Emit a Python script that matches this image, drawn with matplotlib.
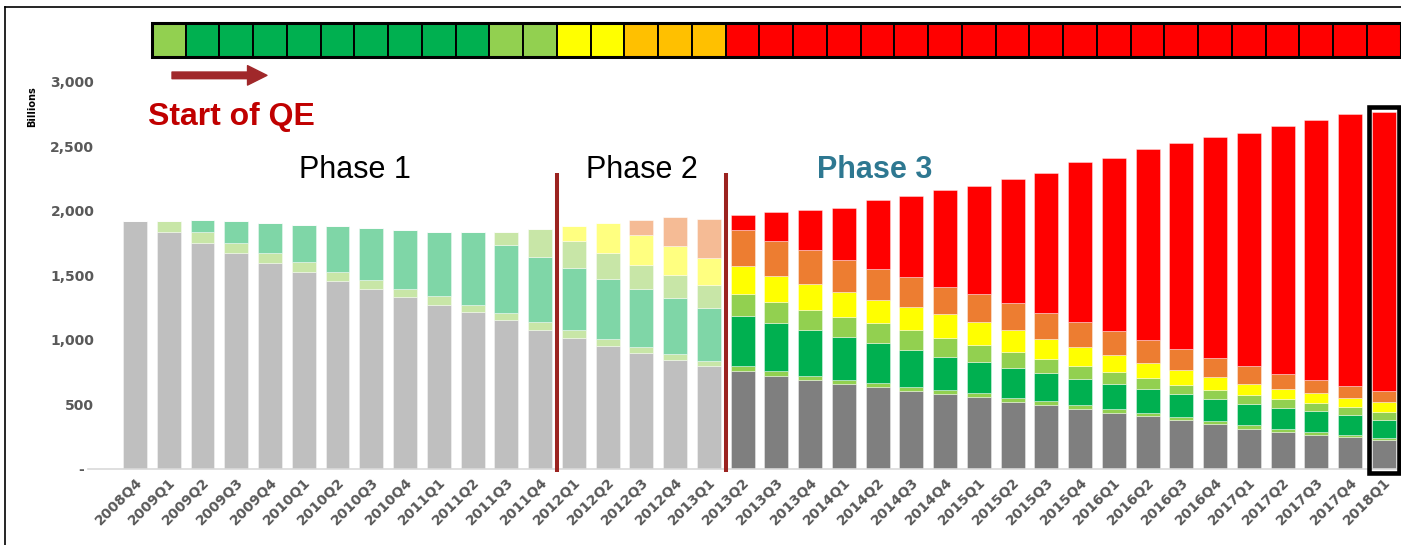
import matplotlib.pyplot as plt
from matplotlib.patches import Rectangle
from matplotlib.lines import Line2D
import numpy as np

# quarters on the x axis
quarters = ['2008Q4',
            '2009Q1', '2009Q2', '2009Q3', '2009Q4',
            '2010Q1', '2010Q2', '2010Q3', '2010Q4',
            '2011Q1', '2011Q2', '2011Q3', '2011Q4',
            '2012Q1', '2012Q2', '2012Q3', '2012Q4',
            '2013Q1', '2013Q2', '2013Q3', '2013Q4',
            '2014Q1', '2014Q2', '2014Q3', '2014Q4',
            '2015Q1', '2015Q2', '2015Q3', '2015Q4',
            '2016Q1', '2016Q2', '2016Q3', '2016Q4',
            '2017Q1', '2017Q2', '2017Q3', '2017Q4',
            '2018Q1']

# balances by vintage (billions), bottom to top of each stack
pre_2009 = [1918, 1832, 1752, 1672, 1597, 1527, 1457, 1395, 1333, 1271, 1212, 1150, 1077,
            1015, 953, 898, 842, 795, 754, 715, 684, 656, 630, 604, 576, 552, 518, 490,
            464, 433, 407, 374, 343, 309, 283, 262, 242, 219]
v2009q1 = [0, 86, 85, 80, 75, 73, 70, 67, 62, 65, 56, 56, 60,
           57, 54, 47, 46, 39, 41, 41, 36, 31, 31, 28, 33, 31, 31, 34,
           26, 29, 24, 23, 23, 26, 21, 19, 18, 18]
v2009q2_2011q2 = [0, 0, 88, 166, 230, 287, 352, 406, 457, 496, 564, 530, 506,
                  483, 466, 448, 432, 414, 390, 370, 352, 333, 310, 287, 258, 243, 228, 214,
                  202, 191, 183, 181, 173, 168, 165, 163, 153, 142]
v2011h2 = [0, 0, 0, 0, 0, 0, 0, 0, 0, 0, 0, 99, 215,
           208, 199, 186, 179, 176, 171, 166, 160, 158, 155, 155, 148, 134, 129, 114,
           103, 96, 86, 72, 70, 67, 70, 62, 62, 62]
v2012h1 = [0, 0, 0, 0, 0, 0, 0, 0, 0, 0, 0, 0, 0,
           116, 233, 235, 225, 211, 213, 201, 197, 194, 181, 179, 181, 177, 166, 155,
           150, 132, 121, 114, 101, 88, 78, 77, 74, 75]
v2012q3_2013q1 = [0, 0, 0, 0, 0, 0, 0, 0, 0, 0, 0, 0, 0,
                  0, 0, 112, 225, 303, 281, 272, 264, 243, 241, 233, 215, 214, 209, 202,
                  192, 186, 174, 161, 150, 137, 116, 104, 93, 85]
v2013q2_on = [0, 0, 0, 0, 0, 0, 0, 0, 0, 0, 0, 0, 0,
              0, 0, 0, 0, 0, 117, 223, 315, 408, 535, 626, 750, 843, 965, 1081,
              1238, 1339, 1481, 1600, 1714, 1805, 1922, 2019, 2106, 2165]

# status of each quarter from 2009Q1 on, shown in the strip
strip_status = ['lgreen'] + ['green'] * 9 + ['lgreen'] * 2 + ['yellow'] * 2 + \
               ['amber'] * 3 + ['red'] * 20

yticks = [0, 500, 1000, 1500, 2000, 2500, 3000]
ytick_labels = ['-  ', '500', '1,000', '1,500', '2,000', '2,500', '3,000']

# full colours (phase 3) and the faded ones used for phases 1-2
full = ['#7F7F7F', '#92D050', '#00B050', '#92D050', '#FFFF00', '#ED7D31', '#FF0000']
faded = ['#BFBFBF', '#C8E6A7', '#7FD6A7', '#C8E6A7', '#FFFF80', '#F5BB95', '#FF8080']
strip_colors = {'lgreen': '#92D050', 'green': '#00B050', 'yellow': '#FFFF00',
                'amber': '#FFC000', 'red': '#FF0000'}

layers = [pre_2009, v2009q1, v2009q2_2011q2, v2011h2, v2012h1, v2012q3_2013q1, v2013q2_on]

W, H = 1401, 545
fig = plt.figure(figsize=(W / 100, H / 100), dpi=100)
ax = fig.add_axes([88 / W, (H - 468.5) / H, 1 - 88 / W, 468.5 / H])

x = np.arange(len(quarters))
phase3 = x >= 18
bottom = np.zeros(len(quarters))
for k, vals in enumerate(layers):
    vals = np.array(vals, dtype=float)
    cols = [full[k] if p else faded[k] for p in phase3]
    ax.bar(x, vals, 0.71, bottom=bottom, color=cols,
           edgecolor=(1, 1, 1, 0.45), linewidth=0.6)
    bottom += vals

px_per_unit = 0.1289
ax.set_xlim(-1.393, 37.51)
ax.set_ylim(0, 468.5 / px_per_unit)

for s in ['top', 'right', 'left']:
    ax.spines[s].set_visible(False)
ax.spines['bottom'].set_color('#D9D9D9')
ax.spines['bottom'].set_linewidth(1.2)

ax.set_yticks(yticks)
ax.set_yticklabels(ytick_labels)
ax.tick_params(axis='y', length=0, pad=-4.5, labelsize=10, labelcolor='#595959')
for t in ax.get_yticklabels():
    t.set_fontweight('bold')

ax.set_xticks(x)
ax.set_xticklabels(quarters, rotation=45, ha='right', rotation_mode='anchor')
ax.tick_params(axis='x', length=0, pad=5, labelsize=10, labelcolor='#595959')
for t in ax.get_xticklabels():
    t.set_fontweight('bold')

# box around the latest quarter
ax.add_patch(Rectangle((37 - 0.445, -33), 0.89, 2804 + 33, fill=False,
                       edgecolor='black', linewidth=3.3, clip_on=False, zorder=5))

# phase dividers
for xd in [12.5, 17.5]:
    ax.plot([xd, xd], [-27, 2292], color='#9B2320', linewidth=2.9,
            clip_on=False, zorder=4, solid_capstyle='butt')

ax.text(6.52, 2254, 'Phase 1', ha='center', va='baseline', fontsize=22,
        family='Liberation Sans', color='black')
ax.text(15.02, 2254, 'Phase 2', ha='center', va='baseline', fontsize=22,
        family='Liberation Sans', color='black')
ax.text(21.93, 2254, 'Phase 3', ha='center', va='baseline', fontsize=22,
        family='Liberation Sans', fontweight='bold', color='#2E7891')

ax.text(0.385, 2665, 'Start of QE', ha='left', va='baseline', fontsize=23,
        family='Liberation Sans', fontweight='bold', color='#C00000')
ax.annotate('', xy=(3.91, 3050), xytext=(1.096, 3050),
            arrowprops=dict(arrowstyle='simple,head_length=14,head_width=14,tail_width=4.8',
                            mutation_scale=1, color='#A0282A', shrinkA=0, shrinkB=0))

# status strip across the top
y0, y1 = 3192, 3456
for i, st in enumerate(strip_status, start=1):
    ax.add_patch(Rectangle((i - 0.5, y0), 1, y1 - y0, facecolor=strip_colors[st],
                           edgecolor='black', linewidth=1.4, clip_on=False, zorder=3))
ax.add_patch(Rectangle((0.5, y0), len(strip_status), y1 - y0, fill=False,
                       edgecolor='black', linewidth=2.2, clip_on=False, zorder=4))

fig.text(32 / W, 1 - 107 / H, 'Billions', rotation=90, ha='center', va='center',
         fontsize=7, fontweight='bold', color='black')

# outer frame (top and left edges)
fig.add_artist(Line2D([4.5 / W, 1], [1 - 6.5 / H, 1 - 6.5 / H], color='black', linewidth=1.2))
fig.add_artist(Line2D([4.5 / W, 4.5 / W], [0, 1 - 6.5 / H], color='black', linewidth=1.2))

fig.savefig('out.png', dpi=100)
